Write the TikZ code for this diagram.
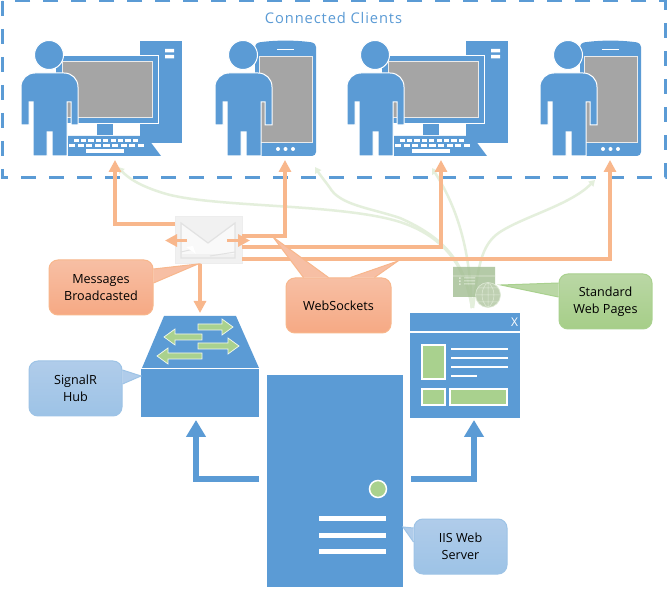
\documentclass[tikz,border=0pt]{standalone}
\usepackage{fontspec}
\setmainfont{Open Sans}
\newfontfamily\titlefont[LetterSpace=6]{Open Sans}
\usetikzlibrary{arrows.meta}

\definecolor{iconblue}{HTML}{5B9BD5}
\definecolor{flowor}{HTML}{F8B78C}
\definecolor{flowgr}{HTML}{E4EFDC}
\definecolor{leafgr}{HTML}{A9D18E}
\definecolor{scrgray}{HTML}{A5A5A5}
\definecolor{orlight}{HTML}{F7BFA4}
\definecolor{ordark}{HTML}{F6A984}
\definecolor{grlight}{HTML}{BAD7A5}
\definecolor{grdark}{HTML}{A6CE88}
\definecolor{bllight}{HTML}{B0CCEA}
\definecolor{bldark}{HTML}{9DC3E6}
\definecolor{webbox}{HTML}{A2BD92}
\definecolor{webline}{HTML}{D6E4CB}
\definecolor{webglobe}{HTML}{AFC59F}
\definecolor{envedge}{HTML}{EDEDED}
\definecolor{envback}{HTML}{F1F1F1}
\definecolor{envfront}{HTML}{F9F9F9}
\definecolor{envline}{HTML}{E2E2E2}

% person in front of a device, x position given by the shift
\newcommand{\personfig}[1]{
  \begin{scope}[xshift=#1pt]
    \draw [icon,draw=white] (49,55) circle (14.5);
    \draw [icon,draw=white] (21,125) -- (21,87) .. controls (21,79) and (27,73) .. (35,73) -- (64,73)
      .. controls (72,73) and (78,79) .. (78,87) -- (78,125)
      -- (71,125) -- (71,102) -- (67,102) -- (67,156) -- (52,156) -- (52,132) -- (47,132) -- (47,156)
      -- (33,156) -- (33,102) -- (29,102) -- (29,125) -- cycle;
  \end{scope}
}
\newcommand{\pcfig}[1]{
  \begin{scope}[xshift=#1pt]
    \fill [iconblue] (140,41) rectangle (182,143);
    \fill [white] (165,49) rectangle (174,52.5) (165,55) rectangle (174,58.5);
    \draw [icon,draw=white] (55,56) rectangle (158,124);
    \draw [screen] (62,62) rectangle (152,118);
    \fill [iconblue] (97,124.5) rectangle (113,135);
    \fill [iconblue] (68,136) -- (146,136) -- (161,156) -- (68,156) -- cycle;
    \foreach \kx in {0,...,8} {
      \fill [white] (73.5+\kx*7.4,139) rectangle +(5.2,2.6);
      \fill [white] (69+\kx*8.6,144) rectangle +(6.2,2.8);
    }
    \fill [white] (86,149.5) rectangle (124,153);
  \end{scope}
  \personfig{#1}
}
\newcommand{\phonefig}[1]{
  \begin{scope}[xshift=#1pt]
    \fill [iconblue,rounded corners=4pt] (255,43) .. controls (275,40) and (296,40) .. (316,43) -- (316,156) -- (255,156) -- cycle;
    \draw [screen] (259,57) rectangle (312,143);
    \draw [white,line width=1pt] (277,50) -- (294,50);
    \foreach \dx in {278,285.5,293} {
      \fill [white] (\dx,149) circle (2);
    }
  \end{scope}
  \personfig{\the\numexpr194+#1\relax}
}

\begin{document}
\begin{tikzpicture}[x=1pt,y=-1pt,line width=1pt]
\tikzstyle{icon}=[fill=iconblue,line width=1pt];
\tikzstyle{screen}=[fill=scrgray,draw=white!92!black,line width=1pt];
\tikzstyle{slot}=[inner sep=0pt,outer sep=0pt];
\tikzstyle{wsflow}=[draw=flowor,line width=3.5pt,-{Triangle[length=12pt,width=12pt]}];
\tikzstyle{webflow}=[draw=flowgr,line width=2.5pt,-{Triangle[length=6pt,width=7pt]}];
\tikzstyle{srvflow}=[draw=iconblue,line width=6pt,-{Triangle[length=17pt,width=19pt]},shorten <=8pt];
\tikzstyle{tag}=[inner sep=0pt,rounded corners=9pt,align=center,font=\fontsize{12.6}{17.5}\selectfont,minimum width=93pt,minimum height=55pt];
\tikzstyle{ortag}=[tag,draw=flowor,top color=orlight,bottom color=ordark];
\tikzstyle{grtag}=[tag,draw=leafgr,top color=grlight,bottom color=grdark];
\tikzstyle{bltag}=[tag,draw=bldark,top color=bllight,bottom color=bldark];

\useasboundingbox (0,0) rectangle (667,593);
\fill [white] (0,0) rectangle (667,593);

% clients
\draw [iconblue,line width=3pt,dash pattern=on 15pt off 13pt] (2,1) rectangle (665,178);
\node [text=iconblue,font=\fontsize{14.7}{16}\titlefont] (title) at (333.5,18) {Connected Clients};

\node [slot,minimum width=161pt,minimum height=117pt] (pc1) at (101.5,98.5) {};
\node [slot,minimum width=102pt,minimum height=117pt] (ph1) at (265,98.5) {};
\node [slot,minimum width=161pt,minimum height=117pt] (pc2) at (427.5,98.5) {};
\node [slot,minimum width=102pt,minimum height=117pt] (ph2) at (590,98.5) {};
\pcfig{0}
\phonefig{0}
\pcfig{326}
\phonefig{325}

% server
\node [fill=iconblue,slot,minimum width=136pt,minimum height=212pt] (server) at (335,481) {};
\draw [fill=leafgr,draw=white,line width=1.5pt] (378,489) circle (8.5);
\foreach \by in {518,535,551} {
  \fill [white] (319,\by-2.5) rectangle (386,\by+2.5);
}

% hub
\node [slot,minimum width=118pt,minimum height=101pt] (hub) at (200,366.5) {};
\fill [iconblue] (164,316) -- (236,316) -- (259,368) -- (142,368) -- cycle;
\fill [iconblue] (141,369.5) rectangle (259,417);
\foreach \ax/\ay/\asgn/\alen in {198/327/1/35,202/337/-1/38,198/346/1/41,202/356/-1/45} {
  \begin{scope}[shift={(\ax,\ay)},xscale=\asgn]
    \draw [fill=leafgr,draw=white!85!leafgr,line width=0.7pt,line join=miter]
      (0,-3) -- (\alen-11,-3) -- (\alen-11,-8) -- (\alen,0) -- (\alen-11,8) -- (\alen-11,3) -- (0,3) -- cycle;
  \end{scope}
}

% page
\node [slot,minimum width=110pt,minimum height=105pt] (page) at (465,365.5) {};
\fill [iconblue] (410,313) rectangle (520,331);
\fill [iconblue] (410,333) rectangle (520,418);
\node [text=white,font=\fontsize{12}{12}\selectfont] (closex) at (514.5,322) {X};
\foreach \px/\py/\qx/\qy in {422/345/445/379,422/389/445/405,450/389/507/405} {
  \draw [fill=leafgr,draw=white,line width=1.2pt] (\px,\py) rectangle (\qx,\qy);
}
\foreach \ly/\lx in {349/508,358/508,367/508,376/477} {
  \draw [white,line width=1.8pt] (451,\ly) -- (\lx,\ly);
}

% standard pages
\node [slot,minimum width=42pt,minimum height=41pt] (webic) at (474,287.5) {};
\draw [webflow] ([xshift=-2pt]webic.south) .. controls (465,262) and (440,235) .. (400,222)
  .. controls (340,203) and (210,208) .. (163,193) .. controls (140,186) and (128,178) .. (118,167);
\draw [webflow] ([xshift=-2pt]webic.south) .. controls (465,262) and (445,238) .. (400,218)
  .. controls (370,208) and (340,205) .. (330,188) .. controls (325,181) and (320,175) .. (315,167);
\draw [webflow] ([xshift=-2pt]webic.south) .. controls (470,260) and (462,215) .. (432,168);
\draw [webflow] ([xshift=-1pt]webic.south) .. controls (478,270) and (480,245) .. (500,232)
  .. controls (525,216) and (570,205) .. (595,180);

% web pages icon
\begin{scope}[transparency group,opacity=.8]
\fill [webbox] (453,267) rectangle (495,297);
\draw [webline,line width=0.6pt] (453,276) -- (495,276);
\foreach \iy in {278,281,284} {
  \draw [webline,line width=1pt] (464,\iy) -- (475,\iy);
  \fill [webline] (459,\iy-0.7) rectangle +(1.5,1.5);
}
\draw [fill=webglobe,draw=webline,line width=0.6pt] (488,295) circle (12.5);
\draw [webline,line width=0.5pt] (475.5,295) -- (500.5,295) (488,282.5) -- (488,307.5)
  (477.5,288) -- (498.5,288) (477.5,302) -- (498.5,302)
  (488,282.5) .. controls (480,288) and (480,302) .. (488,307.5)
  (488,282.5) .. controls (496,288) and (496,302) .. (488,307.5);
\end{scope}

% envelope
\node [slot,draw=envedge,fill=envback,minimum width=67pt,minimum height=47pt] (env) at (208.5,240.5) {};
\fill [envfront] (182,224) -- (208,243) -- (235,224) -- (235,254) -- (182,254) -- cycle;
\draw [envline,line width=1.2pt] (181,223) -- (208,243) -- (235,223) -- (235,258) -- (181,258) -- cycle;
\draw [envline,line width=1pt] (181,252) -- (194,249) (235,252) -- (210,256);
\fill [white] (186,247) -- (193,246) -- (196,254) -- cycle;

% websockets
\draw [wsflow,shorten >=3pt] ([yshift=16.5pt]env.west) -| ([xshift=13.5pt]pc1.south);
\draw [wsflow,shorten >=3pt] ([yshift=4.5pt]env.east) -| ([xshift=20pt]ph1.south);
\draw [wsflow,shorten >=3pt] ([yshift=-6.5pt]env.east) -| ([xshift=13.5pt]pc2.south);
\draw [wsflow,shorten >=3pt] ([yshift=-18.5pt]env.east) -| ([xshift=20pt]ph2.south);
\draw [wsflow,shorten >=3pt] (env.south -| hub.north) -- (hub.north);
\draw [wsflow] ([xshift=12pt]env.west) -- ([xshift=-10pt]env.west);
\draw [wsflow] ([xshift=-15pt]env.east) -- ([xshift=8pt]env.east);

% from the server
\draw [srvflow,shorten >=3pt] ([yshift=2pt]server.west) -| ([xshift=-4pt]hub.south);
\draw [srvflow,shorten >=2pt] ([yshift=2pt]server.east) -| ([xshift=9pt]page.south);

% labels
\node [ortag,minimum width=104pt] (msgtag) at (101,287.5) {Messages\\Broadcasted};
\draw [draw=flowor,fill=orlight] ([yshift=18.5pt]msgtag.east) -- (198,264) -- ([yshift=4.5pt]msgtag.east);
\node [ortag,minimum width=105pt] (wstag) at (338.5,305.5) {WebSockets};
\draw [draw=flowor,fill=orlight] ([xshift=-35pt]wstag.north) -- (273,237) -- ([xshift=-10pt]wstag.north);
\draw [draw=flowor,fill=orlight] ([xshift=12pt]wstag.north) -- (398,261) -- ([xshift=36pt]wstag.north);
\node [grtag] (stdtag) at (605.5,301.5) {Standard\\Web Pages};
\draw [draw=leafgr,fill=grlight] ([yshift=18.5pt]stdtag.west) -- (501,285) -- ([yshift=4.5pt]stdtag.west);
\node [bltag] (hubtag) at (75.5,388.5) {SignalR\\Hub};
\draw [draw=bldark,fill=bllight] ([yshift=18.5pt]hubtag.east) -- (141,376) -- ([yshift=4.5pt]hubtag.east);
\node [bltag] (iistag) at (460.5,546.5) {IIS Web\\Server};
\draw [draw=bldark,fill=bllight] ([yshift=18.5pt]iistag.west) -- (403,527) -- ([yshift=4.5pt]iistag.west);
\end{tikzpicture}
\end{document}
